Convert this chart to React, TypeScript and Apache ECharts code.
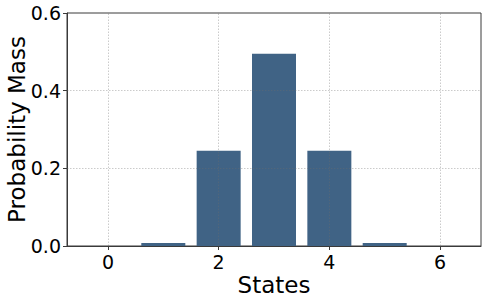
import React, { useEffect, useRef } from "react";
import * as echarts from "echarts";

const states = [0, 1, 2, 3, 4, 5, 6];
const probabilities = [0, 0.0075, 0.245, 0.495, 0.245, 0.0075, 0];
const xTicks = [0, 2, 4, 6];
const yGridValues = [0.2, 0.4];

const FONT = "DejaVu Sans";

export default function App() {
  const ref = useRef<HTMLDivElement>(null);
  useEffect(() => {
    document.body.style.margin = "0";
    const chart = echarts.init(ref.current!, null, { renderer: "svg" });
    const gridStyle = { color: "rgba(110,110,110,0.45)", type: [1.5, 1.5] as any, width: 0.8 };
    chart.setOption({
      animation: false,
      backgroundColor: "#ffffff",
      grid: {
        left: 67,
        right: 7,
        top: 13,
        bottom: 57,
        containLabel: false,
        outerBoundsMode: "none",
        show: true,
        borderColor: "#3a3a3a",
        borderWidth: 1,
        backgroundColor: "transparent",
      },
      xAxis: {
        type: "value",
        min: -0.74,
        max: 6.74,
        name: "States",
        nameLocation: "middle",
        nameGap: 27,
        nameMoveOverlap: false,
        nameTextStyle: { fontFamily: FONT, fontSize: 23, color: "#000", verticalAlign: "top" },
        axisLine: { show: true, onZero: false, lineStyle: { color: "#3a3a3a", width: 1 } },
        axisTick: { show: true, length: 4, customValues: xTicks, lineStyle: { color: "#3a3a3a" } },
        axisLabel: {
          customValues: xTicks,
          fontFamily: FONT,
          fontSize: 19,
          color: "#000",
          margin: 6,
          formatter: (v: number) => String(Math.round(v)),
        },
        splitLine: { show: false },
      },
      yAxis: {
        type: "value",
        min: 0,
        max: 0.6,
        interval: 0.2,
        name: "Probability Mass",
        nameLocation: "middle",
        nameGap: 39,
        nameMoveOverlap: false,
        nameTextStyle: { fontFamily: FONT, fontSize: 23, color: "#000" },
        axisLine: { show: true, onZero: false, lineStyle: { color: "#3a3a3a", width: 1 } },
        axisTick: { show: true, length: 4, lineStyle: { color: "#3a3a3a" } },
        axisLabel: {
          fontFamily: FONT,
          fontSize: 19,
          color: "#000",
          margin: 6,
          formatter: (v: number) => v.toFixed(1),
        },
        splitLine: { show: false },
      },
      series: [
        {
          type: "bar",
          data: states.map((s, i) => [s, probabilities[i]]),
          barWidth: 44,
          itemStyle: { color: "#406385" },
          markLine: {
            silent: true,
            symbol: ["none", "none"],
            label: { show: false },
            lineStyle: gridStyle,
            data: [
              ...xTicks.map((x) => ({ xAxis: x })),
              ...yGridValues.map((y) => ({ yAxis: y })),
            ],
          },
        },
      ],
    });
    return () => chart.dispose();
  }, []);
  return <div ref={ref} style={{ width: 488, height: 303 }} />;
}
